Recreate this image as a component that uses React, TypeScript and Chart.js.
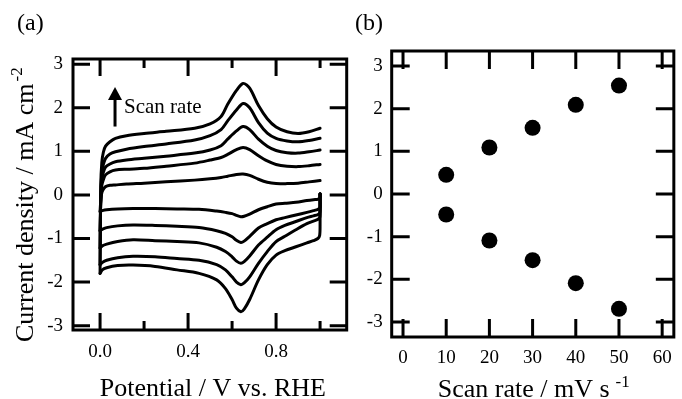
import React, { useEffect, useRef } from "react";
import { Chart, registerables } from "chart.js";

Chart.register(...registerables);

const FONT = "'Liberation Serif', 'Times New Roman', serif";

// ---------- Panel (a): cyclic voltammograms ----------
const scanRates = [10, 20, 30, 40, 50];

const anodicE = [0, 0.003, 0.008, 0.015, 0.025, 0.045, 0.07, 0.12, 0.2, 0.3, 0.43, 0.5, 0.55, 0.58, 0.62, 0.65, 0.68, 0.72, 0.76, 0.8, 0.85, 0.9, 0.95, 1.0];
const anodic10 = [-0.38, -0.15, 0.05, 0.13, 0.19, 0.22, 0.23, 0.25, 0.27, 0.3, 0.34, 0.37, 0.4, 0.43, 0.47, 0.48, 0.45, 0.36, 0.29, 0.26, 0.26, 0.27, 0.3, 0.33];
const anodic20 = [-0.82, -0.2, 0.22, 0.35, 0.46, 0.53, 0.57, 0.59, 0.61, 0.66, 0.73, 0.8, 0.86, 0.93, 1.04, 1.09, 1.04, 0.9, 0.78, 0.7, 0.66, 0.65, 0.67, 0.7];
const anodic30 = [-1.22, -0.1, 0.35, 0.52, 0.64, 0.71, 0.76, 0.8, 0.84, 0.89, 0.96, 1.03, 1.13, 1.28, 1.47, 1.57, 1.5, 1.28, 1.12, 1.02, 0.97, 0.96, 0.99, 1.03];
const anodic40 = [-1.6, 0.0, 0.5, 0.7, 0.84, 0.94, 0.99, 1.05, 1.11, 1.17, 1.26, 1.36, 1.5, 1.7, 1.95, 2.1, 2.0, 1.66, 1.42, 1.3, 1.24, 1.22, 1.25, 1.3];
const anodic50 = [-1.8, 0.2, 0.75, 0.98, 1.12, 1.22, 1.3, 1.36, 1.41, 1.46, 1.53, 1.63, 1.8, 2.08, 2.4, 2.56, 2.45, 2.05, 1.75, 1.56, 1.45, 1.41, 1.45, 1.53];

const cathodicE = [1.0, 1.0, 0.998, 0.99, 0.97, 0.94, 0.89, 0.84, 0.8, 0.76, 0.72, 0.68, 0.655, 0.64, 0.62, 0.6, 0.57, 0.53, 0.45, 0.35, 0.25, 0.15, 0.08, 0.03, 0.01, 0.0];
const cathodic10 = [0.02, -0.05, -0.08, -0.1, -0.11, -0.13, -0.17, -0.19, -0.21, -0.27, -0.34, -0.44, -0.49, -0.5, -0.47, -0.43, -0.4, -0.37, -0.33, -0.32, -0.31, -0.31, -0.32, -0.34, -0.36, -0.38];
const cathodic20 = [0.02, -0.25, -0.3, -0.33, -0.36, -0.4, -0.46, -0.52, -0.57, -0.66, -0.76, -0.95, -1.06, -1.09, -1.04, -0.96, -0.88, -0.82, -0.75, -0.72, -0.7, -0.69, -0.71, -0.75, -0.79, -0.82];
const cathodic30 = [0.02, -0.35, -0.42, -0.45, -0.48, -0.52, -0.61, -0.7, -0.8, -0.97, -1.15, -1.4, -1.53, -1.57, -1.52, -1.42, -1.3, -1.2, -1.1, -1.07, -1.05, -1.03, -1.07, -1.13, -1.17, -1.22];
const cathodic40 = [0.03, -0.45, -0.52, -0.56, -0.6, -0.66, -0.8, -0.95, -1.07, -1.3, -1.57, -1.88, -2.02, -2.06, -2.0, -1.88, -1.72, -1.6, -1.5, -1.46, -1.42, -1.41, -1.44, -1.5, -1.55, -1.6];
const cathodic50 = [0.03, -0.7, -0.93, -1.0, -1.05, -1.1, -1.19, -1.28, -1.38, -1.6, -1.95, -2.4, -2.62, -2.68, -2.6, -2.4, -2.15, -1.95, -1.8, -1.72, -1.64, -1.61, -1.62, -1.67, -1.72, -1.8];

const anodicSets = [anodic10, anodic20, anodic30, anodic40, anodic50];
const cathodicSets = [cathodic10, cathodic20, cathodic30, cathodic40, cathodic50];

const aXTicks = [0, 0.2, 0.4, 0.6, 0.8, 1.0];
const aXLabels = ["0.0", "", "0.4", "", "0.8", ""];
const aYTicks = [-3, -2, -1, 0, 1, 2, 3];

// "Scan rate" arrow annotation (data coordinates)
const arrowE = 0.068;
const arrowFrom = 1.57;
const arrowTo = 2.48;
const arrowLabelE = 0.109;
const arrowLabelJ = 1.89;

// ---------- Panel (b): peak current vs scan rate ----------
const bScanRates = [10, 20, 30, 40, 50];
const peakAnodic = [0.45, 1.09, 1.55, 2.09, 2.54];
const peakCathodic = [-0.48, -1.09, -1.55, -2.09, -2.69];
const bXTicks = [0, 10, 20, 30, 40, 50, 60];
const bYTicks = [-3, -2, -1, 0, 1, 2, 3];

const pairs = (xs: number[], ys: number[]) => xs.map((x, i) => ({ x, y: ys[i] }));

function framePlugin(opts: {
  xMajor: (v: number) => boolean;
  major: number;
  minor: number;
  yLen: number;
}) {
  return {
    id: "frame",
    afterDatasetsDraw(chart: any) {
      const { ctx, chartArea: a, scales } = chart;
      ctx.save();
      ctx.strokeStyle = "#000";
      ctx.lineWidth = 3;
      ctx.lineCap = "butt";
      ctx.beginPath();
      for (const t of scales.x.ticks) {
        const px = scales.x.getPixelForValue(t.value);
        const len = opts.xMajor(t.value) ? opts.major : opts.minor;
        ctx.moveTo(px, a.bottom);
        ctx.lineTo(px, a.bottom - len);
        ctx.moveTo(px, a.top);
        ctx.lineTo(px, a.top + len);
      }
      for (const t of scales.y.ticks) {
        const py = scales.y.getPixelForValue(t.value);
        ctx.moveTo(a.left, py);
        ctx.lineTo(a.left + opts.yLen, py);
        ctx.moveTo(a.right, py);
        ctx.lineTo(a.right - opts.yLen, py);
      }
      ctx.stroke();
      ctx.strokeRect(a.left, a.top, a.right - a.left, a.bottom - a.top);
      ctx.restore();
    },
  };
}

function drawSupText(
  ctx: CanvasRenderingContext2D,
  main: string,
  sup: string,
  size: number,
  supSize: number,
  gap: number,
  raise: number
) {
  ctx.font = `${size}px ${FONT}`;
  const w1 = ctx.measureText(main).width;
  ctx.font = `${supSize}px ${FONT}`;
  const w2 = ctx.measureText(sup).width;
  return { w1, w2, total: w1 + gap + w2 };
}

export default function App() {
  const refA = useRef<HTMLCanvasElement>(null);
  const refB = useRef<HTMLCanvasElement>(null);

  useEffect(() => {
    const tickFont = { family: FONT, size: 19 };

    const labelsA = {
      id: "labelsA",
      afterDraw(chart: any) {
        const { ctx, chartArea: a, scales } = chart;
        ctx.save();
        ctx.fillStyle = "#000";
        ctx.strokeStyle = "#000";
        // panel label
        ctx.font = `24px ${FONT}`;
        ctx.textBaseline = "alphabetic";
        ctx.textAlign = "left";
        ctx.fillText("(a)", 17, 30);
        // x title
        ctx.font = `26px ${FONT}`;
        ctx.textAlign = "center";
        ctx.fillText("Potential / V vs. RHE", (a.left + a.right) / 2 + 3, 396);
        // y title
        const m = drawSupText(ctx, "Current density / mA cm", "-2", 26, 17, 2, 11);
        ctx.translate(33, 342);
        ctx.rotate(-Math.PI / 2);
        ctx.textAlign = "left";
        ctx.font = `26px ${FONT}`;
        ctx.fillText("Current density / mA cm", 0, 0);
        ctx.font = `17px ${FONT}`;
        ctx.fillText("-2", m.w1 + 2, -11);
        ctx.restore();

        // arrow annotation
        ctx.save();
        const ax = scales.x.getPixelForValue(arrowE);
        const y0 = scales.y.getPixelForValue(arrowFrom);
        const y1 = scales.y.getPixelForValue(arrowTo);
        ctx.lineWidth = 3;
        ctx.strokeStyle = "#000";
        ctx.fillStyle = "#000";
        ctx.beginPath();
        ctx.moveTo(ax, y0);
        ctx.lineTo(ax, y1 + 10);
        ctx.stroke();
        ctx.beginPath();
        ctx.moveTo(ax, y1);
        ctx.lineTo(ax - 7, y1 + 13);
        ctx.lineTo(ax + 7, y1 + 13);
        ctx.closePath();
        ctx.fill();
        ctx.font = `21px ${FONT}`;
        ctx.textAlign = "left";
        ctx.textBaseline = "alphabetic";
        ctx.fillText(
          "Scan rate",
          scales.x.getPixelForValue(arrowLabelE),
          scales.y.getPixelForValue(arrowLabelJ)
        );
        ctx.restore();
      },
    };

    const lineStyle = {
      borderColor: "#000",
      borderWidth: 3,
      pointRadius: 0,
      tension: 0.3,
      fill: false,
      borderJoinStyle: "round" as const,
      borderCapStyle: "round" as const,
    };

    const chartA = new Chart(refA.current!, {
      type: "line",
      data: {
        datasets: [
          ...anodicSets.map((ys, i) => ({
            label: `${scanRates[i]} mV/s anodic`,
            data: pairs(anodicE, ys),
            ...lineStyle,
          })),
          ...cathodicSets.map((ys, i) => ({
            label: `${scanRates[i]} mV/s cathodic`,
            data: pairs(cathodicE, ys),
            ...lineStyle,
          })),
        ],
      },
      options: {
        animation: false,
        responsive: false,
        maintainAspectRatio: false,
        layout: { padding: { top: 59, right: 18.3, left: 0, bottom: 0 } },
        plugins: { legend: { display: false }, tooltip: { enabled: false } },
        scales: {
          x: {
            type: "linear",
            min: -0.123,
            max: 1.121,
            afterBuildTicks: (s: any) => {
              s.ticks = aXTicks.map((v) => ({ value: v }));
            },
            afterFit: (s: any) => {
              s.height = 69;
            },
            grid: { display: false, drawTicks: false },
            border: { display: false },
            ticks: {
              font: tickFont,
              color: "#000",
              padding: 11,
              maxRotation: 0,
              autoSkip: false,
              callback: (_v: any, i: number) => aXLabels[i],
            },
          },
          y: {
            type: "linear",
            min: -3.1,
            max: 3.12,
            afterBuildTicks: (s: any) => {
              s.ticks = aYTicks.map((v) => ({ value: v }));
            },
            afterFit: (s: any) => {
              s.width = 73;
            },
            grid: { display: false, drawTicks: false },
            border: { display: false },
            ticks: {
              font: tickFont,
              color: "#000",
              padding: 10,
              autoSkip: false,
              callback: (v: any) => String(v),
            },
          },
        },
      },
      plugins: [
        framePlugin({
          xMajor: (v) => Math.abs(v - 0) < 1e-6 || Math.abs(v - 0.4) < 1e-6 || Math.abs(v - 0.8) < 1e-6,
          major: 17,
          minor: 9,
          yLen: 17,
        }),
        labelsA,
      ],
    } as any);

    const labelsB = {
      id: "labelsB",
      afterDraw(chart: any) {
        const { ctx, chartArea: a } = chart;
        ctx.save();
        ctx.fillStyle = "#000";
        ctx.font = `24px ${FONT}`;
        ctx.textBaseline = "alphabetic";
        ctx.textAlign = "left";
        ctx.fillText("(b)", 5, 30);
        const m = drawSupText(ctx, "Scan rate / mV s", "-1", 26, 17, 6, 10);
        const cx = (a.left + a.right) / 2 + 1;
        const x0 = cx - m.total / 2;
        ctx.font = `26px ${FONT}`;
        ctx.fillText("Scan rate / mV s", x0, 397);
        ctx.font = `17px ${FONT}`;
        ctx.fillText("-1", x0 + m.w1 + 6, 387);
        ctx.restore();
      },
    };

    const chartB = new Chart(refB.current!, {
      type: "scatter",
      data: {
        datasets: [
          {
            label: "anodic peak",
            data: pairs(bScanRates, peakAnodic),
            backgroundColor: "#000",
            borderColor: "#000",
            pointRadius: 8,
            borderWidth: 0,
          },
          {
            label: "cathodic peak",
            data: pairs(bScanRates, peakCathodic),
            backgroundColor: "#000",
            borderColor: "#000",
            pointRadius: 8,
            borderWidth: 0,
          },
        ],
      },
      options: {
        animation: false,
        responsive: false,
        maintainAspectRatio: false,
        layout: { padding: { top: 51, right: 1, left: 0, bottom: 0 } },
        plugins: { legend: { display: false }, tooltip: { enabled: false } },
        scales: {
          x: {
            type: "linear",
            min: -2.62,
            max: 62.7,
            afterBuildTicks: (s: any) => {
              s.ticks = bXTicks.map((v) => ({ value: v }));
            },
            afterFit: (s: any) => {
              s.height = 62;
            },
            grid: { display: false, drawTicks: false },
            border: { display: false },
            ticks: {
              font: tickFont,
              color: "#000",
              padding: 10,
              maxRotation: 0,
              autoSkip: false,
              callback: (v: any) => String(v),
            },
          },
          y: {
            type: "linear",
            min: -3.35,
            max: 3.35,
            afterBuildTicks: (s: any) => {
              s.ticks = bYTicks.map((v) => ({ value: v }));
            },
            afterFit: (s: any) => {
              s.width = 41.7;
            },
            grid: { display: false, drawTicks: false },
            border: { display: false },
            ticks: {
              font: tickFont,
              color: "#000",
              padding: 9,
              autoSkip: false,
              callback: (v: any) => String(v),
            },
          },
        },
      },
      plugins: [framePlugin({ xMajor: () => true, major: 18, minor: 18, yLen: 18 }), labelsB],
    } as any);

    return () => {
      chartA.destroy();
      chartB.destroy();
    };
  }, []);

  return (
    <div style={{ position: "absolute", left: 0, top: 0, width: 682, height: 399, background: "#fff", overflow: "hidden" }}>
      <canvas
        ref={refA}
        width={365}
        height={399}
        style={{ position: "absolute", left: 0, top: 0, width: 365, height: 399 }}
      />
      <canvas
        ref={refB}
        width={332}
        height={399}
        style={{ position: "absolute", left: 350, top: 0, width: 332, height: 399 }}
      />
    </div>
  );
}
